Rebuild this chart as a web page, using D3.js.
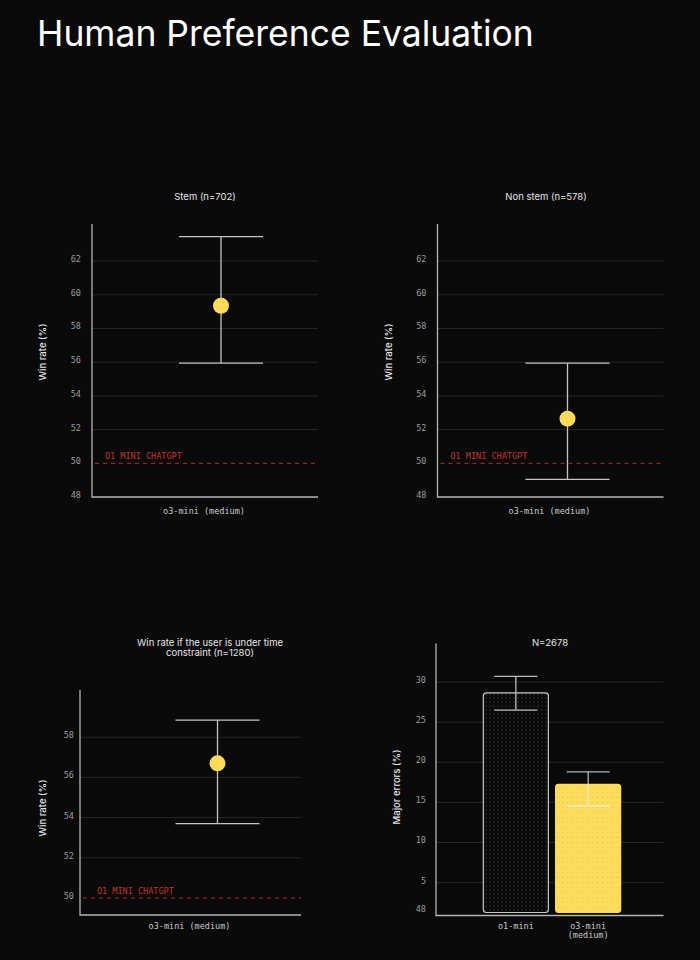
<!DOCTYPE html>
<html>
<head>
<meta charset="utf-8">
<script src="https://d3js.org/d3.v7.min.js"></script>
<style>
  body { margin: 0; background: #0a0a0a; }
  svg { display: block; }
</style>
</head>
<body>
<div id="container"></div>
<script>
// ---- data ----
var panelTitles = [["Stem (n=702)"], ["Non stem (n=578)"],
                   ["Win rate if the user is under time", "constraint (n=1280)"], ["N=2678"]];
var winCategory = "o3-mini (medium)";
var winMean  = [59.35, 52.65, 56.7];
var winLow   = [55.95, 49.05, 53.7];
var winHigh  = [63.45, 55.95, 58.85];
var baselineValue = 50;
var baselineLabel = "O1 MINI CHATGPT";

var winTicks1 = [48, 50, 52, 54, 56, 58, 60, 62];
var winTicks3 = [50, 52, 54, 56, 58];

var barCategories = ["o1-mini", "o3-mini (medium)"];
var barLabels = [["o1-mini"], ["o3-mini", "(medium)"]];
var barValues = [28.65, 17.25];
var barLow    = [26.5, 14.55];
var barHigh   = [30.7, 18.8];
var barTicks  = [5, 10, 15, 20, 25, 30];
var barBottomTickLabel = "48";

var width = 700, height = 960;
var mono = "'DejaVu Sans Mono', monospace";
var sans = "Inter, 'Liberation Sans', sans-serif";

var svg = d3.select("#container").append("svg")
    .attr("width", width)
    .attr("height", height);

svg.append("rect").attr("width", width).attr("height", height).attr("fill", "#0a0a0a");

var defs = svg.append("defs");
var pDark = defs.append("pattern").attr("id", "dotsDark")
    .attr("width", 4).attr("height", 4).attr("patternUnits", "userSpaceOnUse");
pDark.append("rect").attr("width", 4).attr("height", 4).attr("fill", "#0b0b0b");
pDark.append("circle").attr("cx", 2).attr("cy", 2).attr("r", 0.6).attr("fill", "#555");
var pYel = defs.append("pattern").attr("id", "dotsYellow")
    .attr("width", 5).attr("height", 5).attr("patternUnits", "userSpaceOnUse");
pYel.append("rect").attr("width", 5).attr("height", 5).attr("fill", "#fcdc5a");
pYel.append("circle").attr("cx", 2.5).attr("cy", 2.5).attr("r", 0.6).attr("fill", "#e8c545");

svg.append("text")
    .attr("x", 37).attr("y", 46)
    .attr("font-family", sans).attr("font-size", 35.5)
    .attr("fill", "#fff")
    .text("Human Preference Evaluation");

// generic axes frame
function frame(p) {
  var g = svg.append("g");
  // grid
  g.selectAll(".grid").data(p.grid).join("line")
      .attr("x1", p.x0).attr("x2", p.x1)
      .attr("y1", d => p.y(d)).attr("y2", d => p.y(d))
      .attr("stroke", "#262626").attr("stroke-width", 1);
  // tick labels
  g.selectAll(".tick").data(p.ticks).join("text")
      .attr("x", p.x0 - p.tickGap).attr("y", d => p.y(d) - 2)
      .attr("dy", "0.35em")
      .attr("text-anchor", "end")
      .attr("font-family", mono).attr("font-size", 8.5)
      .attr("fill", "#9a9a9a")
      .text(p.tickFormat);
  // axis lines
  g.append("path")
      .attr("d", `M${p.x0},${p.y.range()[1]}V${p.y.range()[0]}H${p.x1}`)
      .attr("fill", "none").attr("stroke", "#b5b5b5").attr("stroke-width", 1.3);
  // y title
  g.append("text")
      .attr("transform", `translate(${p.yLabelX},${p.yLabelY}) rotate(-90)`)
      .attr("text-anchor", "middle").attr("dy", "0.35em")
      .attr("font-family", sans).attr("font-size", 9.5).attr("font-weight", 500)
      .attr("fill", "#e6e6e6")
      .text(p.yLabel);
  // title
  g.append("g").selectAll("text").data(p.title).join("text")
      .attr("x", p.titleX).attr("y", (d, i) => p.titleY + i * 10.5)
      .attr("dy", "0.35em")
      .attr("text-anchor", "middle")
      .attr("font-family", sans).attr("font-size", 9.5)
      .attr("fill", "#e6e6e6")
      .text(d => d);
  return g;
}

function errorBar(g, cx, yTop, yBot, half, color) {
  g.append("line").attr("x1", cx).attr("x2", cx).attr("y1", yTop).attr("y2", yBot)
      .attr("stroke", color).attr("stroke-width", 1.3);
  [yTop, yBot].forEach(function (yy) {
    g.append("line").attr("x1", cx - half).attr("x2", cx + half).attr("y1", yy).attr("y2", yy)
        .attr("stroke", color).attr("stroke-width", 1.3);
  });
}

// ---- win rate panels ----
var winPanels = [
  {x0: 92, x1: 318, top: 224, bot: 497, dom: [48, 64.2], ticks: winTicks1, titleX: 205, titleY: 196.5,
   yLabelX: 42.5, yLabelY: 352, xLabelY: 511.5, offset: 16, tickGap: 11, baseLabelX: 105},
  {x0: 437.5, x1: 663.5, top: 224, bot: 497, dom: [48, 64.2], ticks: winTicks1, titleX: 546, titleY: 196.5,
   yLabelX: 388.5, yLabelY: 352, xLabelY: 511.5, offset: 17, tickGap: 11, baseLabelX: 450.5},
  {x0: 80, x1: 301, top: 690, bot: 915, dom: [49.15, 60.35], ticks: winTicks3, titleX: 210, titleY: 642.5,
   yLabelX: 42.5, yLabelY: 808, xLabelY: 926.5, offset: 27, tickGap: 6, baseLabelX: 97}
];

winPanels.forEach(function (c, i) {
  var y = d3.scaleLinear().domain(c.dom).range([c.bot, c.top]);
  var x = d3.scalePoint().domain([winCategory]).range([c.x0, c.x1]).padding(0.5);
  var p = {
    x0: c.x0, x1: c.x1, y: y,
    grid: c.ticks.filter(t => t > baselineValue),
    ticks: c.ticks, tickFormat: d => d, tickGap: c.tickGap,
    yLabel: "Win rate (%)", yLabelX: c.yLabelX, yLabelY: c.yLabelY,
    title: panelTitles[i], titleX: c.titleX, titleY: c.titleY
  };
  var g = frame(p);

  // baseline
  g.append("line")
      .attr("x1", c.x0 + 3).attr("x2", c.x1)
      .attr("y1", y(baselineValue)).attr("y2", y(baselineValue))
      .attr("stroke", "#b3302a").attr("stroke-width", 1).attr("stroke-dasharray", "4,4");
  g.append("text")
      .attr("x", c.baseLabelX).attr("y", y(baselineValue) - 4)
      .attr("font-family", mono).attr("font-size", 8.5)
      .attr("fill", "#c2332c")
      .text(baselineLabel);

  var cx = x(winCategory) + c.offset;
  errorBar(g, cx, y(winHigh[i]), y(winLow[i]), 42, "#c4c4c4");
  g.append("circle")
      .attr("cx", cx).attr("cy", y(winMean[i])).attr("r", 8)
      .attr("fill", "url(#dotsYellow)");

  g.append("text")
      .attr("x", x(winCategory) - 1).attr("y", c.xLabelY)
      .attr("dy", "0.35em").attr("text-anchor", "middle")
      .attr("font-family", mono).attr("font-size", 8.5)
      .attr("fill", "#c8c8c8")
      .text(winCategory);
});

// ---- major errors bar panel ----
(function () {
  var x0 = 436, x1 = 663.5;
  var y = d3.scaleLinear().domain([0.9, 34.8]).range([915.5, 643.5]);
  var x = d3.scaleBand().domain(barCategories).range([438.5, 665.5])
      .paddingInner(0.1).paddingOuter(0.62);
  var g = frame({
    x0: x0, x1: x1, y: y,
    grid: barTicks, ticks: [y.domain()[0] + 0.6].concat(barTicks),
    tickFormat: (d, i) => i === 0 ? barBottomTickLabel : d, tickGap: 10,
    yLabel: "Major errors (%)", yLabelX: 397, yLabelY: 787,
    title: panelTitles[3], titleX: 550, titleY: 642.5
  });

  g.selectAll(".bar").data(barValues).join("rect")
      .attr("x", (d, i) => x(barCategories[i]))
      .attr("width", x.bandwidth())
      .attr("y", d => y(d))
      .attr("height", d => y(y.domain()[0]) - 3 - y(d))
      .attr("rx", 3)
      .attr("fill", (d, i) => i === 0 ? "url(#dotsDark)" : "url(#dotsYellow)")
      .attr("stroke", (d, i) => i === 0 ? "#c8c8c8" : "#fcdc5a")
      .attr("stroke-width", 1.2);

  barValues.forEach(function (d, i) {
    var cx = x(barCategories[i]) + x.bandwidth() / 2;
    errorBar(g, cx, y(barHigh[i]), y(barLow[i]), 21.5, i === 0 ? "#bdbdbd" : "rgba(235,235,235,0.75)");
    g.append("g").selectAll("text").data(barLabels[i]).join("text")
        .attr("x", cx).attr("y", (t, j) => 926.5 + j * 8.5)
        .attr("dy", "0.35em").attr("text-anchor", "middle")
        .attr("font-family", mono).attr("font-size", 8.5)
        .attr("fill", "#c8c8c8")
        .text(t => t);
  });
})();
</script>
</body>
</html>
